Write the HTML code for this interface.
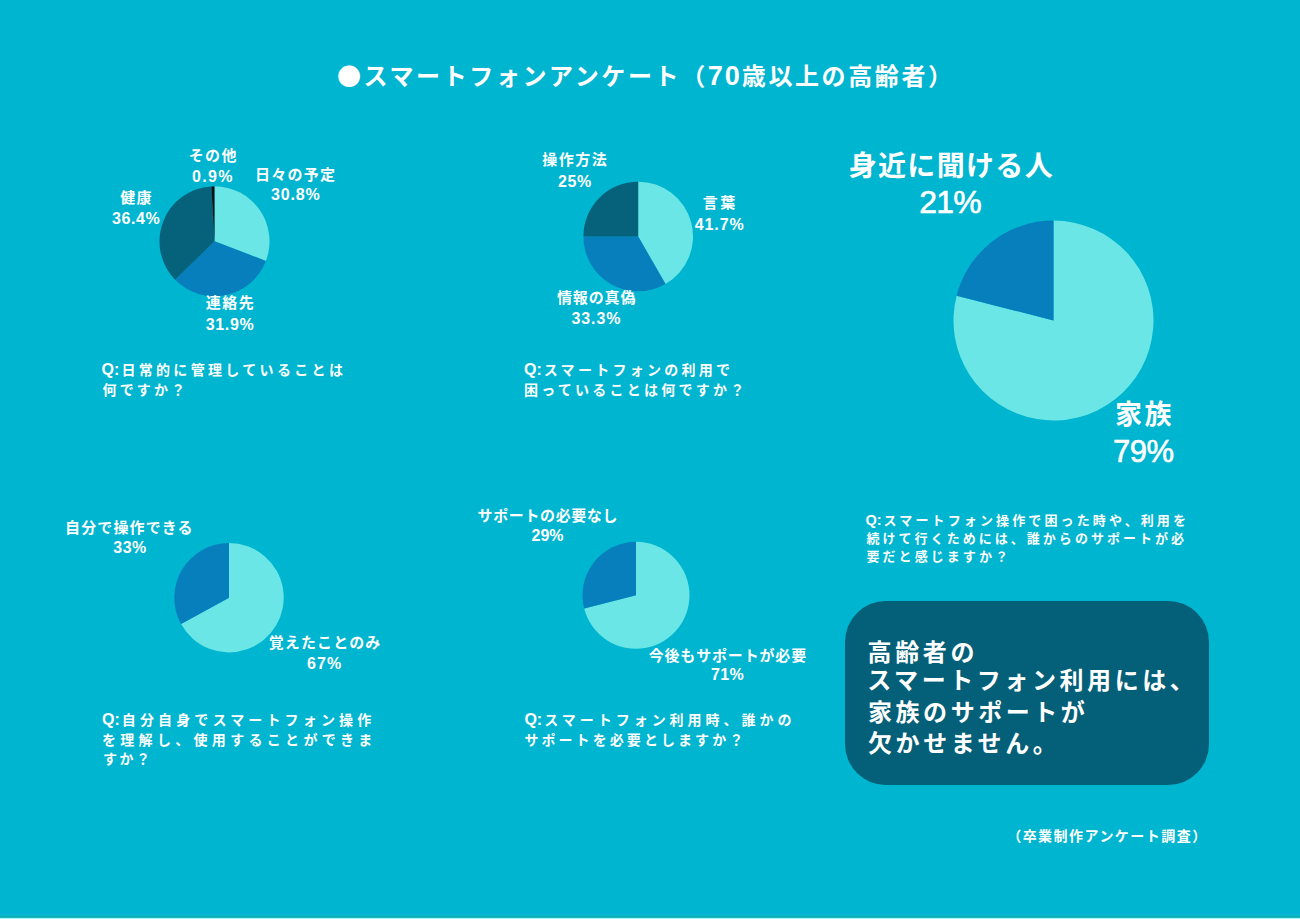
<!DOCTYPE html>
<html lang="ja">
<head>
<meta charset="utf-8">
<title>スマートフォンアンケート（70歳以上の高齢者）</title>
<style>
html,body{margin:0;padding:0;}
body{width:1300px;height:919px;overflow:hidden;background:#00b5cf;position:relative;
  font-family:"Liberation Sans","Noto Sans CJK JP",sans-serif;color:#fff;font-weight:700;}
svg{position:absolute;left:0;top:0;}
.t{position:absolute;white-space:nowrap;line-height:1.4;}
.qq{letter-spacing:0;font-size:16px;line-height:0;margin-right:2px;}
#title{left:337px;top:58px;font-size:24px;letter-spacing:2.6px;}
#title .dot{font-family:"Noto Sans CJK JP",sans-serif;}
#title .n{letter-spacing:2px;font-size:27px;line-height:0;}
.box{position:absolute;left:845px;top:601.4px;width:363.5px;height:184px;border-radius:41px;background:#045f78;}
.edge{position:absolute;left:0;top:912px;width:1300px;height:7px;background:linear-gradient(to bottom,#06b3d8 0px,#06b3d8 2px,#03b8cd 2px,#03b8cd 3px,#05bac8 3px,#05bac8 4px,#0aaeba 4px,#0aaeba 5px,#2ab4be 5px,#2ab4be 6px,#aaf7fb 6px,#aaf7fb 7px);}
</style>
</head>
<body>
<svg width="1300" height="919" viewBox="0 0 1300 919">
<path d="M214.50 241.30L214.50 186.30A55 55 0 0 1 265.89 260.90Z" fill="#6ae6e6"/>
<path d="M214.50 241.30L265.89 260.90A55 55 0 0 1 175.12 279.70Z" fill="#087fbd"/>
<path d="M214.50 241.30L175.12 279.70A55 55 0 0 1 211.39 186.39Z" fill="#06617a"/>
<path d="M214.50 241.30L211.39 186.39A55 55 0 0 1 214.50 186.30Z" fill="#111111"/>
<path d="M638.20 236.50L638.20 181.70A54.8 54.8 0 0 1 665.50 284.02Z" fill="#6ae6e6"/>
<path d="M638.20 236.50L665.50 284.02A54.8 54.8 0 0 1 583.40 236.50Z" fill="#087fbd"/>
<path d="M638.20 236.50L583.40 236.50A54.8 54.8 0 0 1 638.20 181.70Z" fill="#06617a"/>
<path d="M1053.50 320.50L1053.50 220.50A100 100 0 1 1 956.64 295.63Z" fill="#6ae6e6"/>
<path d="M1053.50 320.50L956.64 295.63A100 100 0 0 1 1053.50 220.50Z" fill="#087fbd"/>
<path d="M229.00 597.70L229.00 543.00A54.7 54.7 0 1 1 181.07 624.05Z" fill="#6ae6e6"/>
<path d="M229.00 597.70L181.07 624.05A54.7 54.7 0 0 1 229.00 543.00Z" fill="#087fbd"/>
<path d="M636.00 595.30L636.00 541.80A53.5 53.5 0 1 1 584.18 608.60Z" fill="#6ae6e6"/>
<path d="M636.00 595.30L584.18 608.60A53.5 53.5 0 0 1 636.00 541.80Z" fill="#087fbd"/>
</svg>
<div class="box"></div>
<div class="t" id="title"><span class="dot">●</span>スマートフォンアンケート（<span class="n">70</span>歳以上の高齢者）</div>
<div class="t" id="sonota" style="left:188.70px;top:145.20px;font-size:15px;font-weight:700;letter-spacing:1.40px;">その他</div>
<div class="t" id="sonota_p" style="left:191.90px;top:165.80px;font-size:16px;font-weight:700;letter-spacing:1.34px;">0.9%</div>
<div class="t" id="hibi" style="left:254.90px;top:164.20px;font-size:15px;font-weight:700;letter-spacing:1.28px;">日々の予定</div>
<div class="t" id="hibi_p" style="left:271.10px;top:183.70px;font-size:16px;font-weight:700;letter-spacing:0.80px;">30.8%</div>
<div class="t" id="kenko" style="left:120.20px;top:187.40px;font-size:15px;font-weight:700;letter-spacing:1.30px;">健康</div>
<div class="t" id="kenko_p" style="left:111.90px;top:208.40px;font-size:16px;font-weight:700;letter-spacing:0.62px;">36.4%</div>
<div class="t" id="renraku" style="left:205.80px;top:292.40px;font-size:15px;font-weight:700;letter-spacing:1.45px;">連絡先</div>
<div class="t" id="renraku_p" style="left:205.80px;top:313.70px;font-size:16px;font-weight:700;letter-spacing:0.62px;">31.9%</div>
<div class="t" id="sosa" style="left:542.30px;top:149.30px;font-size:15px;font-weight:700;letter-spacing:1.49px;">操作方法</div>
<div class="t" id="sosa_p" style="left:558.00px;top:171.40px;font-size:16px;font-weight:700;letter-spacing:0.60px;">25%</div>
<div class="t" id="kotoba" style="left:702.70px;top:191.80px;font-size:15px;font-weight:700;letter-spacing:2.60px;">言葉</div>
<div class="t" id="kotoba_p" style="left:694.80px;top:213.60px;font-size:16px;font-weight:700;letter-spacing:0.88px;">41.7%</div>
<div class="t" id="joho" style="left:556.90px;top:287.40px;font-size:15px;font-weight:700;letter-spacing:0.88px;">情報の真偽</div>
<div class="t" id="joho_p" style="left:571.50px;top:308.30px;font-size:16px;font-weight:700;letter-spacing:0.88px;">33.3%</div>
<div class="t" id="mijika" style="left:848.70px;top:147.10px;font-size:28px;font-weight:700;letter-spacing:1.33px;">身近に聞ける人</div>
<div class="t" id="mijika_p" style="left:919.30px;top:180.20px;font-size:32px;font-weight:400;letter-spacing:-0.85px;-webkit-text-stroke:0.6px #fff;">21%</div>
<div class="t" id="kazoku" style="left:1115.10px;top:397.40px;font-size:27px;font-weight:700;letter-spacing:2.30px;">家族</div>
<div class="t" id="kazoku_p" style="left:1112.90px;top:429.80px;font-size:31px;font-weight:400;letter-spacing:-0.45px;-webkit-text-stroke:0.6px #fff;">79%</div>
<div class="t" id="jibun" style="left:65.00px;top:516.70px;font-size:15px;font-weight:700;letter-spacing:1.13px;">自分で操作できる</div>
<div class="t" id="jibun_p" style="left:113.30px;top:536.70px;font-size:16px;font-weight:700;letter-spacing:0.45px;">33%</div>
<div class="t" id="oboe" style="left:268.70px;top:631.70px;font-size:15px;font-weight:700;letter-spacing:1.13px;">覚えたことのみ</div>
<div class="t" id="oboe_p" style="left:306.90px;top:652.80px;font-size:16px;font-weight:700;letter-spacing:1.20px;">67%</div>
<div class="t" id="support" style="left:477.60px;top:505.25px;font-size:15px;font-weight:700;letter-spacing:0.61px;">サポートの必要なし</div>
<div class="t" id="support_p" style="left:531.50px;top:524.90px;font-size:16px;font-weight:700;letter-spacing:0.00px;">29%</div>
<div class="t" id="kongo" style="left:648.70px;top:645.10px;font-size:15px;font-weight:700;letter-spacing:0.83px;">今後もサポートが必要</div>
<div class="t" id="kongo_p" style="left:711.00px;top:664.20px;font-size:16px;font-weight:700;letter-spacing:0.40px;">71%</div>
<div class="t" id="q1a" style="left:101.60px;top:361.30px;font-size:14px;font-weight:700;letter-spacing:3.33px;"><span class="qq">Q:</span>日常的に管理していることは</div>
<div class="t" id="q1b" style="left:102.60px;top:381.30px;font-size:14px;font-weight:700;letter-spacing:3.10px;">何ですか？</div>
<div class="t" id="q2a" style="left:524.00px;top:361.30px;font-size:14px;font-weight:700;letter-spacing:3.26px;"><span class="qq">Q:</span>スマートフォンの利用で</div>
<div class="t" id="q2b" style="left:524.00px;top:381.30px;font-size:14px;font-weight:700;letter-spacing:3.25px;">困っていることは何ですか？</div>
<div class="t" id="q3a" style="left:865.50px;top:512.30px;font-size:13px;font-weight:700;letter-spacing:3.12px;"><span class="qq" style="font-size:14.5px">Q:</span>スマートフォン操作で困った時や、利用を</div>
<div class="t" id="q3b" style="left:866.50px;top:530.00px;font-size:13px;font-weight:700;letter-spacing:3.03px;">続けて行くためには、誰からのサポートが必</div>
<div class="t" id="q3c" style="left:866.50px;top:547.80px;font-size:13px;font-weight:700;letter-spacing:3.06px;">要だと感じますか？</div>
<div class="t" id="q4a" style="left:102.00px;top:710.70px;font-size:14px;font-weight:700;letter-spacing:4.14px;"><span class="qq">Q:</span>自分自身でスマートフォン操作</div>
<div class="t" id="q4b" style="left:102.00px;top:730.70px;font-size:14px;font-weight:700;letter-spacing:4.31px;">を理解し、使用することができま</div>
<div class="t" id="q4c" style="left:103.00px;top:749.70px;font-size:14px;font-weight:700;letter-spacing:2.50px;">すか？</div>
<div class="t" id="q5a" style="left:524.40px;top:710.50px;font-size:14px;font-weight:700;letter-spacing:3.98px;"><span class="qq">Q:</span>スマートフォン利用時、誰かの</div>
<div class="t" id="q5b" style="left:524.40px;top:730.50px;font-size:14px;font-weight:700;letter-spacing:3.07px;">サポートを必要としますか？</div>
<div class="t" id="box1" style="left:867.50px;top:635.70px;font-size:24px;font-weight:700;letter-spacing:3.67px;">高齢者の</div>
<div class="t" id="box2" style="left:867.20px;top:664.40px;font-size:24px;font-weight:700;letter-spacing:3.58px;">スマートフォン利用には、</div>
<div class="t" id="box3" style="left:868.00px;top:696.15px;font-size:24px;font-weight:700;letter-spacing:3.55px;">家族のサポートが</div>
<div class="t" id="box4" style="left:868.00px;top:727.00px;font-size:24px;font-weight:700;letter-spacing:3.58px;">欠かせません。</div>
<div class="t" id="foot" style="left:1007.20px;top:826.90px;font-size:14px;font-weight:700;letter-spacing:1.46px;">（卒業制作アンケート調査）</div>
<div class="edge"></div>
</body>
</html>
